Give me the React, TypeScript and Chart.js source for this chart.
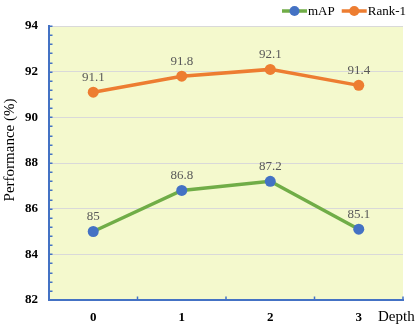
import React, { useEffect, useRef } from "react";
import { Chart, registerables } from "chart.js";

Chart.register(...registerables);

const categories = ["0", "1", "2", "3"];
const mapValues = [85, 86.8, 87.2, 85.1];
const rank1Values = [91.1, 91.8, 92.1, 91.4];
const seriesNames = ["mAP", "Rank-1"];
const yMin = 82;
const yMax = 94;
const yMinorStep = 0.4;
const yTitle = "Performance (%)";
const xTitle = "Depth";

const ORANGE = "#ed7d31";
const GREEN = "#70ad47";
const BLUE = "#4472c4";
const AXIS = "#4472c4";
const BG = "#f4f9cd";
const GRID = "#d9d9d9";
const SERIF = "'Liberation Serif', 'Times New Roman', serif";

const isMajor = (v: number) => Math.abs(v / 2 - Math.round(v / 2)) < 1e-6;

const decorPlugin = {
  id: "decor",
  beforeDraw(chart: any) {
    const { ctx, chartArea } = chart;
    ctx.save();
    ctx.fillStyle = BG;
    ctx.fillRect(chartArea.left, chartArea.top, chartArea.right - chartArea.left, chartArea.bottom - chartArea.top);
    ctx.restore();
  },
  afterDatasetsDraw(chart: any) {
    const { ctx } = chart;
    ctx.save();
    ctx.font = `13px ${SERIF}`;
    ctx.fillStyle = "#595959";
    ctx.textAlign = "center";
    ctx.textBaseline = "middle";
    chart.data.datasets.forEach((ds: any, di: number) => {
      const meta = chart.getDatasetMeta(di);
      meta.data.forEach((pt: any, i: number) => {
        ctx.fillText(String(ds.data[i]), pt.x, pt.y - 15);
      });
    });
    ctx.restore();
  },
  afterDraw(chart: any) {
    const { ctx, chartArea } = chart;
    const ys = chart.scales.y;
    const xs = chart.scales.x;
    ctx.save();
    // y inward ticks
    ctx.strokeStyle = AXIS;
    ctx.lineWidth = 1.5;
    ys.ticks.forEach((t: any) => {
      const py = Math.round(ys.getPixelForValue(t.value)) + 0.25;
      ctx.beginPath();
      ctx.moveTo(chartArea.left, py);
      ctx.lineTo(chartArea.left + 3.5, py);
      ctx.stroke();
    });
    // x ticks at category boundaries
    ctx.lineWidth = 1.5;
    for (let i = 1; i <= categories.length; i++) {
      const px = xs.getPixelForValue(i - 0.5);
      ctx.beginPath();
      ctx.moveTo(px, chartArea.bottom);
      ctx.lineTo(px, chartArea.bottom - 3.5);
      ctx.stroke();
    }
    // x title
    ctx.fillStyle = "#000";
    ctx.font = `15px ${SERIF}`;
    ctx.textAlign = "left";
    ctx.textBaseline = "middle";
    ctx.fillText(xTitle, chartArea.right - 25, chartArea.bottom + 17);
    // y title
    ctx.save();
    ctx.translate(10, (chartArea.top + chartArea.bottom) / 2 - 13);
    ctx.rotate(-Math.PI / 2);
    ctx.textAlign = "center";
    ctx.fillText(yTitle, 0, 0);
    ctx.restore();
    // legend
    ctx.font = `13px ${SERIF}`;
    ctx.textBaseline = "middle";
    ctx.textAlign = "left";
    const ly = 11;
    let right = chart.width - 10;
    const dss = chart.data.datasets;
    for (let di = dss.length - 1; di >= 0; di--) {
      const ds = dss[di];
      const w = ctx.measureText(ds.label).width;
      const tx = right - w;
      const lx1 = tx - 1;
      const lx0 = lx1 - 25;
      ctx.strokeStyle = ds.borderColor;
      ctx.lineWidth = 3.5;
      ctx.beginPath();
      ctx.moveTo(lx0, ly);
      ctx.lineTo(lx1, ly);
      ctx.stroke();
      ctx.fillStyle = ds.pointBackgroundColor;
      ctx.beginPath();
      ctx.arc((lx0 + lx1) / 2, ly, 5, 0, Math.PI * 2);
      ctx.fill();
      ctx.fillStyle = "#000";
      ctx.fillText(ds.label, tx, ly + 0.5);
      right = lx0 - 7;
    }
    ctx.restore();
  },
};

export default function App() {
  const ref = useRef<HTMLCanvasElement | null>(null);
  useEffect(() => {
    document.body.style.margin = "0";
    if (!ref.current) return;
    const chart = new Chart(ref.current, {
      type: "line",
      data: {
        labels: categories,
        datasets: [
          {
            label: seriesNames[0],
            data: mapValues,
            borderColor: GREEN,
            backgroundColor: GREEN,
            pointBackgroundColor: BLUE,
            pointBorderColor: BLUE,
            borderWidth: 3.5,
            pointRadius: 5.5,
            pointBorderWidth: 0,
            tension: 0,
          },
          {
            label: seriesNames[1],
            data: rank1Values,
            borderColor: ORANGE,
            backgroundColor: ORANGE,
            pointBackgroundColor: ORANGE,
            pointBorderColor: ORANGE,
            borderWidth: 3.5,
            pointRadius: 5.5,
            pointBorderWidth: 0,
            tension: 0,
          },
        ],
      },
      options: {
        animation: false,
        responsive: true,
        maintainAspectRatio: false,
        layout: { padding: { top: 26, right: 13, left: 0, bottom: 0 } },
        plugins: {
          legend: { display: false },
          tooltip: { enabled: false },
        },
        scales: {
          x: {
            type: "category",
            offset: true,
            grid: { display: false, drawTicks: false, offset: true },
            border: { display: true, color: AXIS, width: 2 },
            ticks: {
              padding: 10,
              color: "#000",
              font: { family: SERIF, size: 13, weight: "bold" },
            },
            afterFit(scale: any) {
              scale.height = 32;
            },
          },
          y: {
            min: yMin,
            max: yMax,
            grid: {
              drawTicks: false,
              color: (ctx: any) => (ctx.tick && isMajor(ctx.tick.value) && ctx.tick.value !== yMin ? GRID : "rgba(0,0,0,0)"),
              lineWidth: 1,
            },
            border: { display: true, color: AXIS, width: 2 },
            ticks: {
              stepSize: yMinorStep,
              autoSkip: false,
              padding: 11,
              color: "#000",
              font: { family: SERIF, size: 13, weight: "bold" },
              callback: (v: any) => (isMajor(Number(v)) ? String(Math.round(Number(v))) : ""),
            },
            afterFit(scale: any) {
              scale.width = 49;
            },
          },
        },
      },
      plugins: [decorPlugin],
    } as any);
    return () => chart.destroy();
  }, []);
  return (
    <div style={{ position: "relative", width: 416, height: 332 }}>
      <canvas ref={ref} />
    </div>
  );
}
